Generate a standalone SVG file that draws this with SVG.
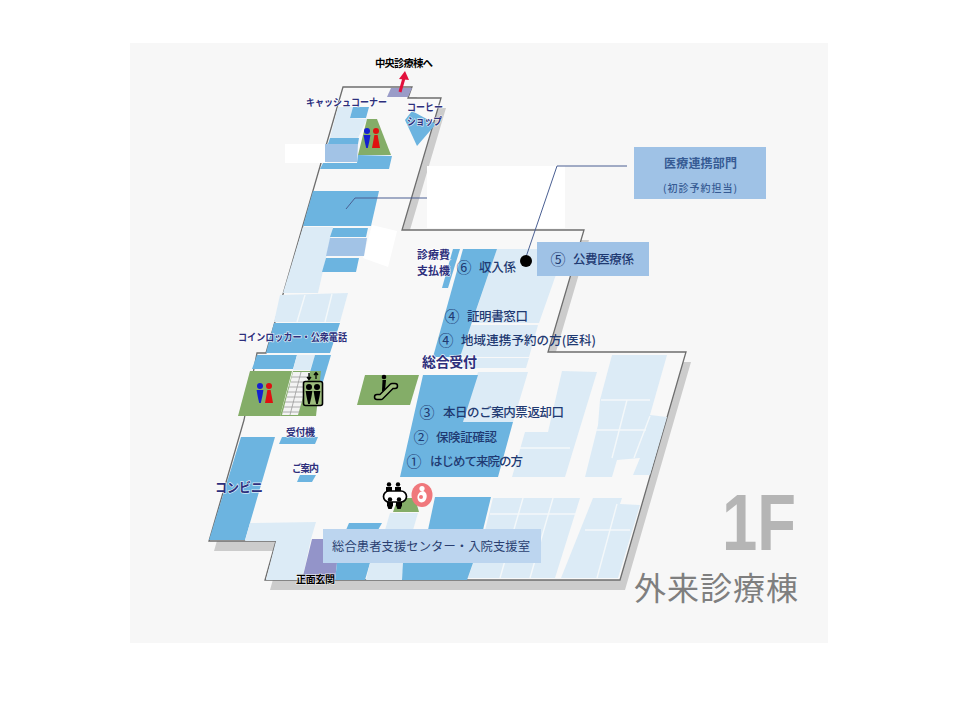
<svg xmlns="http://www.w3.org/2000/svg" xmlns:xlink="http://www.w3.org/1999/xlink" width="960" height="720" viewBox="0 0 960 720">
<style>
text{font-family:"Noto Sans CJK JP","Noto Sans CJK SC","Liberation Sans",sans-serif}
.b{fill:#6cb4e0}.l{fill:#dcebf6}.m{fill:#a2c3e6}.g{fill:#84ad68}
.d{stroke:#f4f8fa;stroke-width:1.4;fill:none}
.halo{fill:#2d2f7c;font-weight:700;stroke:#fff;stroke-width:1.4;stroke-opacity:.75;paint-order:stroke}
.blk{fill:#000;font-weight:700;stroke:#fff;stroke-width:1.2;stroke-opacity:.7;paint-order:stroke}
.n{fill:#1f3a72;font-weight:500;font-size:12.500px}
.c{fill:#1f3a72;font-size:15px}
.lead{fill:none;stroke:#4a5f92;stroke-width:1}
</style>
<defs>
<g id="man"><circle cx="0" cy="-9" r="3"/><path d="M-3.400 -5H3.400L2.400 1 0.800 8H-0.800L-2.400 1Z"/></g>
<g id="woman"><circle cx="0" cy="-9" r="3"/><path d="M-1.600 -5H1.600L4 8H-4Z"/></g>
<g id="kid"><circle cx="0" cy="-3.600" r="2.200"/><path d="M-3 -1H3V2.500L1.600 6H-1.600L-3 2.500Z"/></g>
</defs>
<rect x="0" y="0" width="960" height="720" fill="#fff"/>
<rect x="130" y="43" width="698" height="600" fill="#f7f7f7"/>

<g id="floor">
<polygon fill="#cccccc" transform="translate(5,10)" points="343,87 412,87 408,98 441,98 402,230 584,230 548,352 686,352 620,580 265,580 276,541 209,541 244,420 257,353 266,353"/>
<polygon fill="#f8f8f8" points="343,87 412,87 408,98 441,98 402,230 584,230 548,352 686,352 620,580 265,580 276,541 209,541 244,420 257,353 266,353"/>
<polygon fill="none" stroke="#6d6d6d" stroke-width="1.300" points="343,87 412,87 408,98 441,98 402,230 584,230 548,352 686,352 620,580 265,580 276,541 209,541 244,420 257,353 266,353"/>
<rect x="427" y="166" width="138" height="62" fill="#fff"/>
<polygon fill="#fff" points="372,225 397,231 388,267 363,258"/>
<rect x="285" y="144" width="42" height="19" fill="#fff"/>
</g>

<g id="rooms-north">
<polygon fill="#9a9cc8" points="391,88 412,88 408,97 387,97"/>
<polygon class="l" points="338,107 353,107 350,118 367,119 358,138 330,138"/>
<polygon class="b" points="353,107 369,107 366,118 350,118"/>
<polygon class="b" points="330,138 359,138 358,144 328,144"/>
<polygon class="m" points="325,144 358,144 357,162 325,162"/>
<polygon class="g" points="367,119 377,119 391,155 358,155"/>
<polygon class="b" points="358,155 392,156 389,169 320,169 323,163 357,163"/>
<polygon class="b" points="412,111 436,124 417,146 405,120"/>
<polygon class="b" points="313,191 379,191 371,226 303,226"/>
<polygon class="l" points="303,227 333,227 318,293 283,293"/>
<polygon class="b" points="333,228 368,228 366,237 330,237"/>
<polygon class="m" points="330,238 367,238 364,256 326,256"/>
<polygon class="b" points="326,258 359,258 356,272 322,272"/>
<polygon class="l" points="280,295 348,293 340,322 274,322"/>
<path class="d" d="M305 295L297 322M332 294L325 322"/>
<polygon class="b" points="274,323 340,323 330,353 266,353"/>
<polygon class="b" points="257,355 297,355 293,369 252,369"/>
<polygon class="l" points="297,355 315,355 310,370 293,370"/>
<polygon class="b" points="315,355 331,355 319,395 310,372"/>
</g>

<g id="rooms-west">
<polygon class="g" points="250,371 292,371 280,416 238,416"/>
<polygon class="g" points="293,371 321,371 316,416 280,416"/>
<polygon fill="#f3f3f3" points="293,372 310,372 298,415 282,415"/>
<path fill="none" stroke="#9a9a9a" stroke-width=".8" d="M292 377H309M291 382H308M289 387H307M288 392H305M287 397H304M285 402H303M284 407H301M283 412H300M301 372L290 415"/>
<polygon class="g" points="365,375 419,375 410,405 357,405"/>
<polygon class="b" points="241,437 275,437 245,540 209,540"/>
<polygon class="b" points="282,437 318,437 315,444 279,444"/>
<polygon class="b" points="300,475 316,475 312,482 297,482"/>
<polygon class="l" points="250,523 316,522 311,539 302,580 266,580 276,541 245,541"/>
<polygon fill="#9394c9" points="312,539 345,539 345,563 337,563 335,580 302,580"/>
</g>

<g id="rooms-centre">
<polygon class="l" points="497,249 565,249 539,323 472,323"/>
<polygon class="l" points="471,325 538,325 529,357 460,357"/>
<polygon class="l" points="466,358 529,358 526,368 462,368"/>
<polygon class="l" points="478,372 528,372 513,422 463,422"/>
<polygon class="b" points="453,249 460,249 448,288 442,288"/>
<polygon class="b" points="463,249 497,249 460,357 433,357"/>
<polygon class="b" points="423,375 478,375 463,422 513,422 498,477 400,477"/>
<polygon class="l" points="562,371 597,372 565,477 512,477 525,432 548,432"/>
<path class="d" d="M520 448H570"/>
<polygon class="l" points="612,355 667,355 650,415 667,417 650,475 633,475 640,458 617,460 612,477 585,477 598,425 600,400"/>
<path class="d" d="M601 400H650M596 430H646M627 400L612 458M650 416L634 458"/>
</g>

<g id="rooms-south">
<polygon class="g" points="398,498 415,498 419,512 393,512"/>
<polygon class="l" points="390,513 418,513 413,530 385,530"/>
<polygon class="b" points="349,523 382,523 378,530 346,530"/>
<polygon class="b" points="435,497 491,497 483,530 428,530"/>
<polygon class="l" points="493,498 580,498 555,578 468,578 485,530"/>
<path class="d" d="M523 498L500 578M553 498L530 578M490 514H576"/>
<polygon class="l" points="593,498 622,498 620,504 640,505 618,578 561,578"/>
<path class="d" d="M585 530H630M617 504L597 578"/>
<polygon class="b" points="337,563 370,563 365,580 335,580"/>
<polygon class="l" points="370,563 405,563 402,580 366,580"/>
<polygon class="b" points="403,563 473,563 467,580 402,580"/>
</g>

<g id="icons">
<path fill="none" stroke="#e2103c" stroke-width="3" d="M400 92L404 78"/>
<polygon fill="#e2103c" points="405,71 409,80 399,79"/>
<use xlink:href="#man" href="#man" x="367" y="140" fill="#1520d0"/>
<use xlink:href="#woman" href="#woman" x="376" y="140" fill="#e01010"/>
<use xlink:href="#man" href="#man" x="260" y="395" fill="#1520d0"/>
<use xlink:href="#woman" href="#woman" x="269" y="395" fill="#e01010"/>
<rect x="303.500" y="381.500" width="19" height="24" rx="2" fill="#9dbc7d" stroke="#000" stroke-width="1.600"/>
<use xlink:href="#man" href="#man" x="309" y="396" fill="#000"/>
<use xlink:href="#man" href="#man" x="317" y="396" fill="#000"/>
<path fill="none" stroke="#000" stroke-width="1.300" d="M309 373V379M307 377L309 379.500 311 377M316 379V373M314 375L316 372.500 318 375"/>
<g id="escalator">
<circle cx="384" cy="377" r="2.300" fill="#000"/>
<path d="M382.500 380H386L385 391H382Z" fill="#000"/>
<path d="M377 397H381L392 386H395" fill="none" stroke="#000" stroke-width="6.500" stroke-linecap="round" stroke-linejoin="round"/>
<path d="M377 397H381L392 386H395" fill="none" stroke="#9dbc7d" stroke-width="3.500" stroke-linecap="round" stroke-linejoin="round"/>
</g>
<g id="family">
<use xlink:href="#kid" href="#kid" x="389" y="488" fill="#000"/>
<use xlink:href="#kid" href="#kid" x="398" y="488" fill="#000"/>
<rect x="383.500" y="491" width="23" height="11" rx="5.500" fill="#fff" stroke="#000" stroke-width="1.700"/>
<use xlink:href="#kid" href="#kid" x="390" y="503" fill="#000"/>
<use xlink:href="#kid" href="#kid" x="399" y="503" fill="#000"/>
</g>
<g id="nursing">
<ellipse cx="422" cy="495" rx="10.500" ry="12" fill="#f0787c"/>
<circle cx="422" cy="488.500" r="2.600" fill="#fff"/>
<path d="M418 500C416 495 420 491 423 491C427 492 428 497 425 501C423 503 419 503 418 500Z" fill="#fff"/>
<circle cx="421" cy="497" r="2" fill="#f0787c"/>
</g>
</g>

<g id="boxes">
<rect x="323" y="529" width="218" height="34" fill="#bcd5ef"/>
<rect x="537" y="242" width="112" height="34" fill="#9fc2e6"/>
<rect x="634" y="147" width="132" height="52" fill="#9fc2e6"/>
</g>

<g id="connectors">
<path class="lead" d="M346 209L355 198H427"/>
<path class="lead" d="M627 166H557L526 257"/>
<circle cx="526" cy="261" r="6" fill="#000"/>
</g>

<g id="labels">
<text class="blk" x="375" y="67" font-size="10.500" textLength="58">中央診療棟へ</text>
<text class="halo" x="306" y="106" font-size="10" textLength="81" lengthAdjust="spacingAndGlyphs">キャッシュコーナー</text>
<text class="halo" x="407" y="111" font-size="10.500" textLength="36" lengthAdjust="spacingAndGlyphs">コーヒー</text>
<text class="halo" x="407" y="125" font-size="10.500" textLength="35" lengthAdjust="spacingAndGlyphs">ショップ</text>
<text class="halo" x="238" y="341" font-size="10" textLength="109" lengthAdjust="spacingAndGlyphs">コインロッカー・公衆電話</text>
<text class="halo" x="286" y="436" font-size="10" textLength="29">受付機</text>
<text class="halo" x="292" y="472" font-size="10" textLength="27">ご案内</text>
<text class="halo" x="215" y="492" font-size="13" textLength="48" lengthAdjust="spacingAndGlyphs">コンビニ</text>
<text class="blk" x="296" y="583" font-size="10" textLength="39">正面玄関</text>
<text class="halo" x="417" y="259" font-size="11" textLength="33">診療費</text>
<text class="halo" x="417" y="275" font-size="11" textLength="33">支払機</text>
<text class="halo" x="422" y="367" font-size="14" textLength="55">総合受付</text>
<text class="c" x="456.500" y="273">⑥</text>
<text class="n" x="479" y="272" textLength="37">収入係</text>
<text class="c" x="444.500" y="322">④</text>
<text class="n" x="467" y="321" textLength="61">証明書窓口</text>
<text class="c" x="438.500" y="346">④</text>
<text class="n" x="461" y="345" textLength="135">地域連携予約の方(医科)</text>
<text class="c" x="550.500" y="265">⑤</text>
<text class="n" x="573" y="264" textLength="61">公費医療係</text>
<text class="c" x="419.500" y="418">③</text>
<text class="n" x="443" y="417" textLength="121">本日のご案内票返却口</text>
<text class="c" x="413.500" y="443">②</text>
<text class="n" x="436" y="442" textLength="61">保険証確認</text>
<text class="c" x="406.500" y="467">①</text>
<text class="n" x="430" y="466" textLength="93">はじめて来院の方</text>
<text x="332" y="551" font-size="12.300" fill="#2a3f70" textLength="198">総合患者支援センター・入院支援室</text>
<text x="664" y="168" font-size="12" font-weight="700" fill="#365b94" textLength="73">医療連携部門</text>
<text x="663" y="192" font-size="10" font-weight="500" fill="#365b94" textLength="74">(初診予約担当)</text>
<text x="722" y="550" font-size="79" font-weight="700" fill="#b5b5b5" style="font-family:'Liberation Sans',sans-serif" textLength="74" lengthAdjust="spacingAndGlyphs">1F</text>
<text x="634" y="600" font-size="32" fill="#7f7f7f" textLength="164">外来診療棟</text>
</g>
</svg>
